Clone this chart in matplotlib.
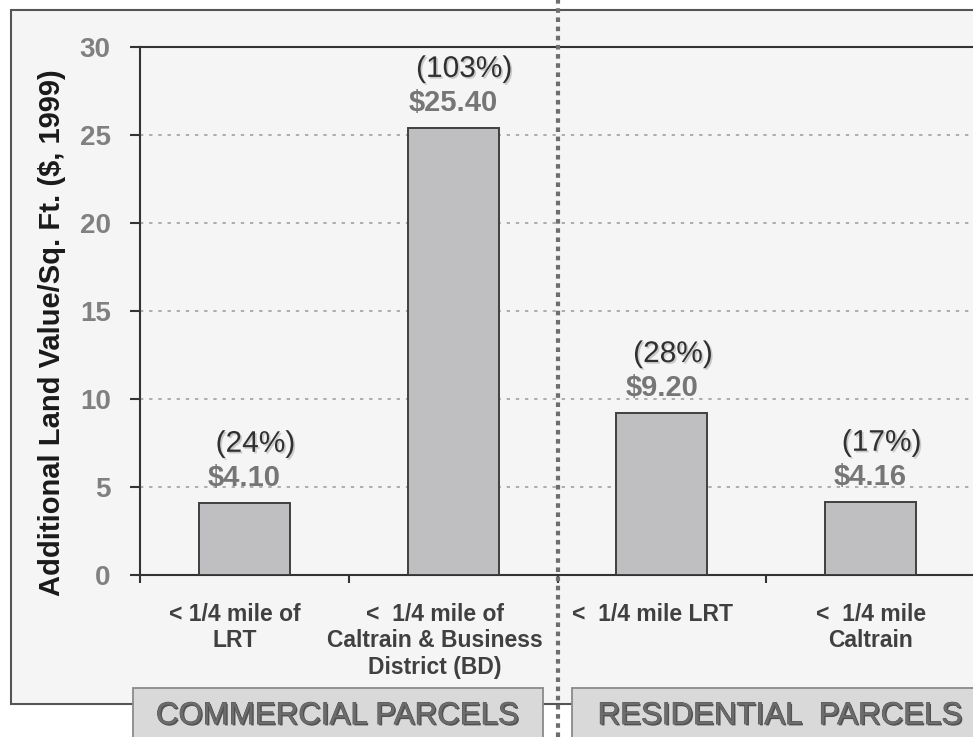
import matplotlib
matplotlib.use("Agg")
import matplotlib.pyplot as plt
import matplotlib.patheffects as pe
from matplotlib.patches import Rectangle
from matplotlib.transforms import blended_transform_factory, offset_copy

plt.rcParams["font.family"] = ["Liberation Sans", "DejaVu Sans"]

# Data
categories = [
    "< 1/4 mile of\nLRT",
    "<  1/4 mile of\nCaltrain & Business\nDistrict (BD)",
    "<  1/4 mile LRT",
    "<  1/4 mile\nCaltrain",
]
values = [4.10, 25.40, 9.20, 4.16]
percents = [24, 103, 28, 17]
groups = ["COMMERCIAL PARCELS", "RESIDENTIAL  PARCELS"]
yticks = [0, 5, 10, 15, 20, 25, 30]
ylabel = "Additional Land Value/Sq. Ft. ($, 1999)"

W, H = 973, 737
fig = plt.figure(figsize=(W / 100, H / 100), dpi=100, facecolor="white")

# Light panel behind the chart
fig.add_artist(Rectangle((11 / W, 1 - 704 / H), 1.0, (704 - 10) / H,
                         transform=fig.transFigure, facecolor="#f5f5f5",
                         edgecolor="#555555", linewidth=1.5, zorder=-5))

ax = fig.add_axes([140 / W, 1 - 575 / H, (975 - 140) / W, (575 - 47) / H])
ax.set_facecolor("none")

x = list(range(len(values)))
ax.bar(x, values, width=0.435, color="#bfbfc2", edgecolor="#404040",
       linewidth=1.4, zorder=3)

ax.set_xlim(-0.5, len(values) - 0.5)
ax.set_ylim(yticks[0], yticks[-1])

# Y axis
ax.set_yticks(yticks)
ax.set_yticklabels([str(t) for t in yticks], fontsize=20, fontweight="bold",
                   color="#808080")
ax.tick_params(axis="y", direction="out", length=7, width=1.5, color="#333333",
               pad=14)
ax.grid(axis="y", linestyle=(0, (2, 3.5)), color="#a0a0a0", linewidth=1.2,
        zorder=1)
ax.set_axisbelow(True)

# X axis: boundary ticks, category labels written below each bar
ax.set_xticks([i - 0.5 for i in x])
ax.set_xticklabels([])
ax.tick_params(axis="x", which="major", direction="out", length=6, width=1.5,
               color="#333333")
label_shift = [-7, -13, -7, 0]  # points
for xi, text, dx in zip(x, categories, label_shift):
    tr = offset_copy(ax.get_xaxis_transform(), fig=fig, x=dx, y=-20,
                     units="points")
    ax.text(xi, 0, text, transform=tr, ha="center", va="top",
            multialignment="center", fontsize=16.5, fontweight="bold",
            color="#404040", linespacing=1.2, clip_on=False)

for side in ["left", "bottom", "top"]:
    ax.spines[side].set_color("#333333")
    ax.spines[side].set_linewidth(1.5)
ax.spines["right"].set_visible(False)

# Value and percentage labels above each bar
shadow = [pe.SimplePatchShadow(offset=(1.2, -1.2), shadow_rgbFace="#b8b8b8",
                               alpha=0.7), pe.Normal()]
for xi, v, p in zip(x, values, percents):
    ax.annotate(f"${v:.2f}", (xi, v), xytext=(0, 18), textcoords="offset points",
                ha="center", va="center", fontsize=21, fontweight="bold",
                color="#767676", zorder=5)
    ax.annotate(f"({p}%)", (xi, v), xytext=(8, 42.5), textcoords="offset points",
                ha="center", va="center", fontsize=21.5, color="#303030",
                path_effects=shadow, zorder=5)

# Y label
fig.text(52 / W, 1 - 333 / H, ylabel, rotation=90, ha="center", va="center",
         fontsize=21, fontweight="bold", color="#1a1a1a")

# Dotted separator between commercial and residential groups
trans = blended_transform_factory(ax.transData, fig.transFigure)
ax.plot([1.5, 1.5], [0, 1], transform=trans, clip_on=False,
        color="#6e6e6e", linewidth=3, linestyle=(0, (1.1, 1.1)),
        solid_capstyle="butt", dash_capstyle="butt", zorder=10)

# Group boxes along the bottom
box_specs = [(133, 543, 337.5), (572, 990, 780)]
for (x0, x1, xc), name in zip(box_specs, groups):
    fig.add_artist(Rectangle((x0 / W, -0.02), (x1 - x0) / W, 0.02 + (737 - 688) / H,
                             transform=fig.transFigure, facecolor="#d9d9d9",
                             edgecolor="#8a8a8a", linewidth=1.3, zorder=20))
    fig.text(xc / W, 1 - 716 / H, name, ha="center", va="center",
             fontsize=22.5, color="#6c6c6c", zorder=21,
             path_effects=[pe.SimplePatchShadow(offset=(1, -1),
                                                shadow_rgbFace="#333333",
                                                alpha=0.8),
                           pe.withStroke(linewidth=0.6, foreground="#4a4a4a")])

fig.savefig("out.png", dpi=100, facecolor=fig.get_facecolor())
